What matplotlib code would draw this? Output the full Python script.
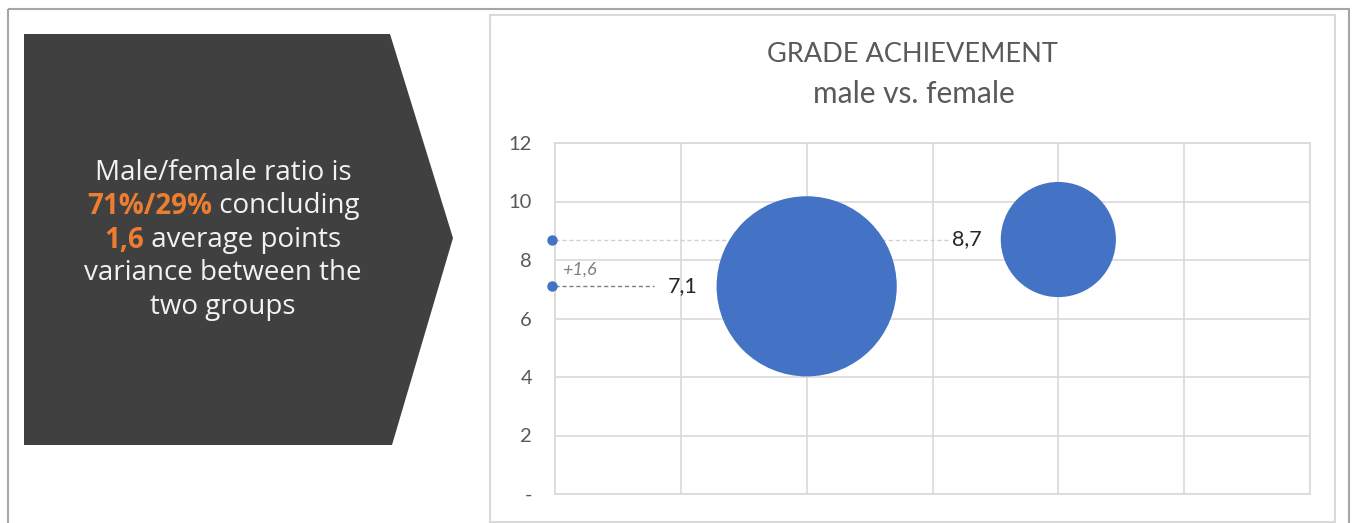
import matplotlib
matplotlib.use('Agg')
from matplotlib import pyplot as plt
from matplotlib.patches import Polygon, Rectangle

# Data
groups = ['male', 'female']
x_pos = [2, 4]
grades = [7.1, 8.7]
shares = [71, 29]
y_ticks = [0, 2, 4, 6, 8, 10, 12]
y_tick_labels = ['-', '2', '4', '6', '8', '10', '12']

W, H = 1353, 523
BLUE = '#4472C4'
ORANGE = '#ED7D31'
GREY_TXT = '#595959'
GRID = '#d9d9d9'

plt.rcParams['font.family'] = ['Lato', 'DejaVu Sans']

fig = plt.figure(figsize=(W / 100, H / 100), dpi=100)

# Background layer in pixel units
bg = fig.add_axes([0, 0, 1, 1])
bg.set_xlim(0, W)
bg.set_ylim(H, 0)
bg.axis('off')

# Outer frame
bg.add_patch(Rectangle((8, 9), 1341, 530, fill=False, edgecolor='#a6a6a6', lw=1.5))
# Chart frame
bg.add_patch(Rectangle((490, 15), 845, 507, fill=False, edgecolor=GRID, lw=1.5))

# Dark arrow panel
bg.add_patch(Polygon([(24, 34), (390, 34), (453, 238), (392, 445), (24, 445)],
                     closed=True, facecolor='#404040', edgecolor='none'))


def centered_runs(ax, x, y, runs, size):
    renderer = fig.canvas.get_renderer()
    texts = []
    for s, color, weight in runs:
        t = ax.text(0, y, s, color=color, fontweight=weight, fontsize=size,
                    family=['Open Sans', 'DejaVu Sans'], ha='left', va='center')
        texts.append(t)
    widths = [t.get_window_extent(renderer).width for t in texts]
    cur = x - sum(widths) / 2
    for t, w in zip(texts, widths):
        t.set_x(cur)
        cur += w


WHITE = '#f2f2f2'
panel_lines = [
    [('Male/female ratio is', WHITE, 'normal')],
    [('71%/29%', ORANGE, 'bold'), (' concluding', WHITE, 'normal')],
    [('1,6', ORANGE, 'bold'), (' average points', WHITE, 'normal')],
    [('variance between the', WHITE, 'normal')],
    [('two groups', WHITE, 'normal')],
]
for i, runs in enumerate(panel_lines):
    centered_runs(bg, 223, 173 + i * 33.5, runs, 20)

# Chart title
bg.text(912, 55, 'GRADE ACHIEVEMENT', ha='center', va='center', fontsize=19.5, color=GREY_TXT)
bg.text(914, 94, 'male vs. female', ha='center', va='center', fontsize=21.5, color=GREY_TXT)

# Bubble chart
ax = fig.add_axes([555 / W, (H - 494) / H, (1310 - 555) / W, (494 - 143) / H])
ax.set_xlim(0, 6)
ax.set_ylim(0, 12)
ax.set_xticks(range(7))
ax.set_yticks(y_ticks)
ax.set_yticklabels(y_tick_labels)
ax.tick_params(axis='x', length=0, labelbottom=False)
ax.tick_params(axis='y', length=0, pad=16.5, labelsize=14.5, labelcolor=GREY_TXT)
ax.grid(color=GRID, lw=1.2)
for sp in ax.spines.values():
    sp.set_color(GRID)
    sp.set_linewidth(1.2)
ax.set_axisbelow(True)

# Bubble area follows each group's share
ax.scatter(x_pos, grades, s=[v * 237 for v in shares], c=BLUE, edgecolors='none', zorder=3)

# Reference markers on the y axis
ax.plot([-0.02, -0.02], grades, 'o', color=BLUE, ms=6.5, clip_on=False, zorder=4)
ax.plot([0, 0.79], [grades[0]] * 2, ls=(0, (3, 2)), color='#808080', lw=1, zorder=2)
ax.plot([0, 3.12], [grades[1]] * 2, ls=(0, (3, 2)), color='#d0d0d0', lw=1, zorder=2)
ax.text(0.9, grades[0], f'{grades[0]:.1f}'.replace('.', ','), ha='left', va='center',
        fontsize=15.5, color='#262626')
ax.text(3.155, grades[1], f'{grades[1]:.1f}'.replace('.', ','), ha='left', va='center',
        fontsize=15.5, color='#262626')
diff = grades[1] - grades[0]
ax.text(0.06, 7.67, f'+{diff:.1f}'.replace('.', ','), ha='left', va='center',
        fontsize=13, style='italic', color='#808080')

fig.savefig('out.png', dpi=100)
